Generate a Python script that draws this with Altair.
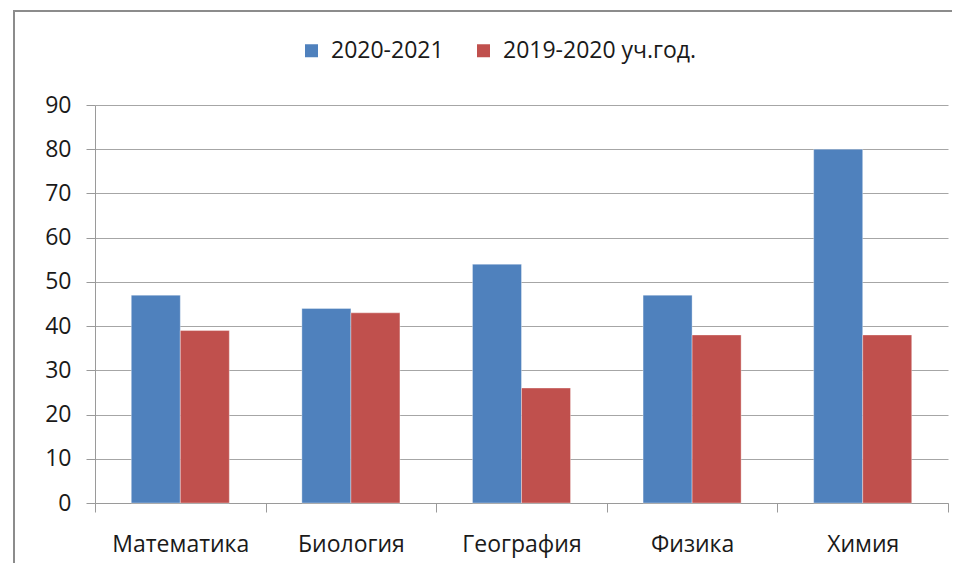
import altair as alt
import pandas as pd

categories = ["Математика", "Биология", "География", "Физика", "Химия"]
series_names = ["2020-2021", "2019-2020 уч.год."]
values_2020_2021 = [47, 44, 54, 47, 80]
values_2019_2020 = [39, 43, 26, 38, 38]
y_ticks = [0, 10, 20, 30, 40, 50, 60, 70, 80, 90]
colors = ["#4F81BD", "#C0504D"]

rows = []
for c, v in zip(categories, values_2020_2021):
    rows.append({"subject": c, "series": series_names[0], "value": v})
for c, v in zip(categories, values_2019_2020):
    rows.append({"subject": c, "series": series_names[1], "value": v})
df = pd.DataFrame(rows)

FONT = "Open Sans"
FS = 23

bars = alt.Chart(df).mark_bar(stroke="#ffffff", strokeOpacity=0.35, strokeWidth=1).encode(
    x=alt.X("subject:N", sort=categories,
            scale=alt.Scale(paddingInner=0, paddingOuter=0),
            axis=alt.Axis(title=None, labelAngle=0, tickBand="extent",
                          domainColor="#9a9a9a", tickColor="#9a9a9a", tickSize=9,
                          labelPadding=21, labelFontSize=FS, labelFont=FONT,
                          labelColor="#1a1a1a", grid=False)),
    xOffset=alt.XOffset("series:N", sort=series_names,
                        scale=alt.Scale(paddingInner=0, paddingOuter=0.74)),
    y=alt.Y("value:Q", scale=alt.Scale(domain=[0, 90], nice=False),
            axis=alt.Axis(title=None, values=y_ticks, grid=True, gridColor="#a6a6a6",
                          domainColor="#9a9a9a", tickColor="#9a9a9a", tickSize=9,
                          labelPadding=15, labelFontSize=FS, labelFont=FONT,
                          labelColor="#1a1a1a")),
    color=alt.Color("series:N", sort=series_names,
                    scale=alt.Scale(domain=series_names, range=colors),
                    legend=alt.Legend(title=None, orient="none", direction="horizontal",
                                      legendX=205, legendY=-66, symbolType="square",
                                      symbolSize=169, symbolStrokeWidth=0,
                                      labelFontSize=FS, labelFont=FONT, labelColor="#1a1a1a",
                                      labelLimit=400, labelOffset=8, columnPadding=28)),
)

frame_left = alt.Chart(pd.DataFrame({"a": [0]})).mark_rule(color="#8c8c8c", strokeWidth=2).encode(
    x=alt.value(-81), y=alt.value(-95), y2=alt.value(468))
frame_top = alt.Chart(pd.DataFrame({"a": [0]})).mark_rule(color="#8c8c8c", strokeWidth=2).encode(
    x=alt.value(-82), x2=alt.value(857), y=alt.value(-94), y2=alt.value(-94))

chart = alt.layer(bars, frame_left, frame_top).properties(
    width=853, height=398,
    autosize=alt.AutoSizeParams(type="none"),
    padding={"left": 87, "top": 97, "right": 4, "bottom": 60},
).configure_view(stroke=None)

chart.save("out.html", embed_options={"renderer": "svg", "actions": False})
